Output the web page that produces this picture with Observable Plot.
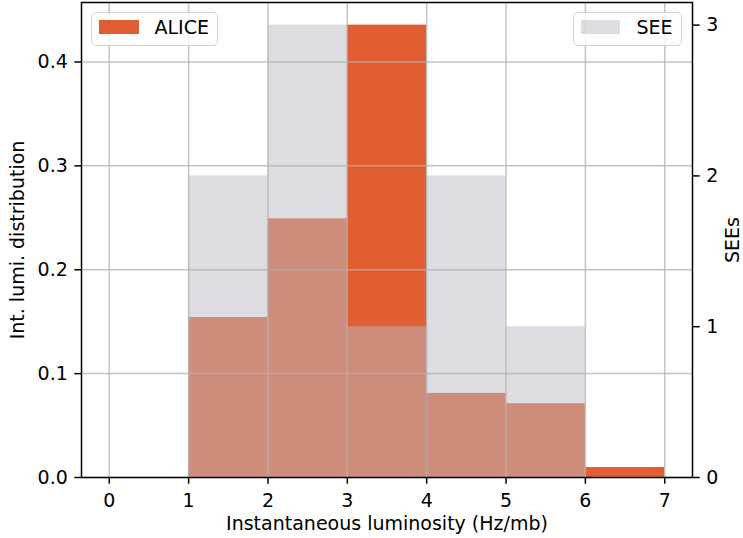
<!DOCTYPE html>
<html><head><meta charset="utf-8">
<script src="https://cdn.jsdelivr.net/npm/d3@7"></script>
<script src="https://cdn.jsdelivr.net/npm/@observablehq/plot@0.6"></script>
<style>
body{margin:0;background:#fff;}
#wrap{position:relative;width:743px;height:538px;overflow:hidden;font-family:"DejaVu Sans",sans-serif;}
#wrap svg{position:absolute;left:0;top:0;}
.lbox{position:absolute;box-sizing:border-box;border:1.5px solid #d4d4d4;border-radius:5px;background:rgba(255,255,255,0.8);}
.patch{position:absolute;}
.ltext{position:absolute;font-size:19px;line-height:19px;color:#000;white-space:nowrap;}
</style></head><body><div id="wrap"></div>
<script>
// bins (left edges, width 1) along instantaneous luminosity (Hz/mb)
const binStart = [1, 2, 3, 4, 5, 6];
// ALICE integrated luminosity distribution per bin (left axis)
const aliceLumi = [0.154, 0.249, 0.4355, 0.081, 0.071, 0.0096];
// SEE counts per bin (right axis)
const seeCounts = [2, 3, 1, 2, 1, 0];
const xTicks = [0, 1, 2, 3, 4, 5, 6, 7];
const leftTicks = [0, 0.1, 0.2, 0.3, 0.4];
const rightTicks = [0, 1, 2, 3];
const seriesNames = ["ALICE", "SEE"];
const seriesColors = ["#e05e32", "#bbb9c1"];
const axisLabels = ["Instantaneous luminosity (Hz/mb)", "Int. lumi. distribution", "SEEs"];

const yMax = d3.max(aliceLumi) * 1.05;
const seeMax = d3.max(seeCounts) * 1.05;
const k = yMax / seeMax;
const aliceData = binStart.map((b, i) => ({x1: b, x2: b + 1, y: aliceLumi[i]}));
const seeData = binStart.map((b, i) => ({x1: b, x2: b + 1, y: seeCounts[i] * k}));

const gridStyle = {stroke: "#b0b0b0", strokeOpacity: 0.75, strokeWidth: 1.5};
const plot = Plot.plot({
  width: 743, height: 538,
  marginLeft: 81, marginRight: 51, marginTop: 2, marginBottom: 61,
  style: {fontFamily: "DejaVu Sans", fontSize: "19px", color: "#000", background: "transparent"},
  x: {domain: [-0.35, 7.35]},
  y: {domain: [0, yMax]},
  marks: [
    Plot.rectY(aliceData, {x1: "x1", x2: "x2", y: "y", fill: seriesColors[0]}),
    Plot.rectY(seeData, {x1: "x1", x2: "x2", y: "y", fill: seriesColors[1], fillOpacity: 0.5}),
    Plot.gridX(xTicks, gridStyle),
    Plot.gridY(leftTicks, gridStyle),
    Plot.frame({stroke: "#000", strokeWidth: 1.5}),
    Plot.axisX(xTicks, {anchor: "bottom", tickSize: 6.7, tickPadding: 9, strokeWidth: 1.5,
      tickFormat: d3.format("d"), label: axisLabels[0], labelAnchor: "center", labelArrow: "none", labelOffset: 52}),
    Plot.axisY(leftTicks, {anchor: "left", tickSize: 6.7, tickPadding: 7, strokeWidth: 1.5,
      tickFormat: d3.format(".1f"), label: axisLabels[1], labelAnchor: "center", labelArrow: "none", labelOffset: 71}),
    Plot.axisY(rightTicks.map(v => v * k), {anchor: "right", tickSize: 6.7, tickPadding: 7, strokeWidth: 1.5,
      tickFormat: d => String(Math.round(d / k)), label: axisLabels[2], labelAnchor: "center", labelArrow: "none", labelOffset: 46})
  ]
});
const wrap = document.getElementById("wrap");
wrap.appendChild(plot);

// legends (matplotlib-style boxes inside the axes)
function legend(box, patch, textLeft, name, color, opacity) {
  const b = document.createElement("div");
  b.className = "lbox";
  Object.assign(b.style, {left: box[0] + "px", top: box[1] + "px", width: box[2] + "px", height: box[3] + "px"});
  wrap.appendChild(b);
  const p = document.createElement("div");
  p.className = "patch";
  Object.assign(p.style, {left: patch[0] + "px", top: patch[1] + "px", width: patch[2] + "px", height: patch[3] + "px", background: color, opacity: opacity});
  wrap.appendChild(p);
  const t = document.createElement("div");
  t.className = "ltext";
  t.textContent = name;
  Object.assign(t.style, {left: textLeft + "px", top: "17.5px"});
  wrap.appendChild(t);
}
legend([91, 12, 127, 34], [98.5, 20, 40, 13.5], 154.5, seriesNames[0], seriesColors[0], 1);
legend([573, 12, 109, 34], [581, 20, 39, 13.5], 636.5, seriesNames[1], seriesColors[1], 0.5);
</script></body></html>
